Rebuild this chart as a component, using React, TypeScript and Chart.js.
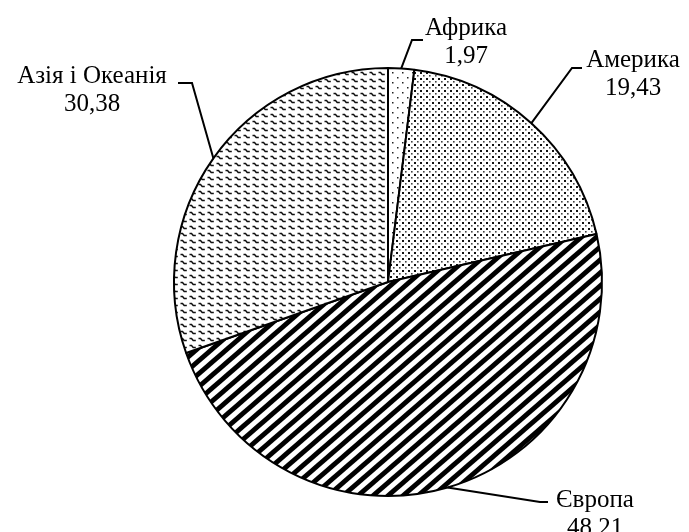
import React, { useEffect, useRef } from "react";
import { Chart, registerables } from "chart.js";

Chart.register(...registerables);

const categories = ["Африка", "Америка", "Європа", "Азія і Океанія"];
const values = [1.97, 19.43, 48.21, 30.38];
const valueLabels = ["1,97", "19,43", "48,21", "30,38"];

// label layout: elbow point, end of horizontal leader, text centre x, first baseline y
const labelLayout = [
  { elbow: [412, 40], end: [423, 40], tx: 466, ty: 35 },
  { elbow: [572, 68], end: [582, 68], tx: 633, ty: 67 },
  { elbow: [540, 502], end: [548, 502], tx: 595, ty: 507 },
  { elbow: [192, 83], end: [178, 83], tx: 92, ty: 83 },
];

function makeTile(w: number, h: number, draw: (c: CanvasRenderingContext2D) => void) {
  const cv = document.createElement("canvas");
  cv.width = w;
  cv.height = h;
  const c = cv.getContext("2d")!;
  c.fillStyle = "#ffffff";
  c.fillRect(0, 0, w, h);
  draw(c);
  return cv;
}

function buildPatterns(ctx: CanvasRenderingContext2D) {
  const sparse = makeTile(10, 10, (c) => {
    c.fillStyle = "#222";
    c.fillRect(2, 2, 1.5, 1.5);
    c.fillRect(7, 7, 1.5, 1.5);
  });
  const dense = makeTile(6, 6, (c) => {
    c.fillStyle = "#111";
    c.fillRect(0, 0, 2, 2);
    c.fillStyle = "#444";
    c.fillRect(3, 3, 1.6, 1.6);
  });
  const W = 15;
  const H = 13;
  const stripes = makeTile(W, H, (c) => {
    c.strokeStyle = "#000";
    c.lineWidth = 4.8;
    for (const dx of [-W, 0, W]) {
      c.beginPath();
      c.moveTo(dx - W, 2 * H);
      c.lineTo(dx + 2 * W, -H);
      c.stroke();
    }
  });
  const waves = makeTile(9, 7, (c) => {
    c.strokeStyle = "#111";
    c.lineWidth = 1.5;
    c.beginPath();
    c.moveTo(0.5, 2.5);
    c.lineTo(2.5, 2.5);
    c.lineTo(4.2, 4.5);
    c.lineTo(6.8, 4.5);
    c.stroke();
  });
  return [sparse, dense, stripes, waves].map((t) => ctx.createPattern(t, "repeat")!);
}

const leaderPlugin = {
  id: "leaders",
  afterDraw(chart: any) {
    const ctx: CanvasRenderingContext2D = chart.ctx;
    const meta = chart.getDatasetMeta(0);
    ctx.save();
    ctx.strokeStyle = "#000";
    ctx.lineWidth = 2;
    ctx.fillStyle = "#000";
    ctx.font = '25px "Liberation Serif", "Times New Roman", serif';
    ctx.textAlign = "center";
    ctx.textBaseline = "alphabetic";
    meta.data.forEach((arc: any, i: number) => {
      const p = arc.getProps(["x", "y", "startAngle", "endAngle", "outerRadius"], true);
      const mid = (p.startAngle + p.endAngle) / 2;
      const sx = p.x + Math.cos(mid) * p.outerRadius;
      const sy = p.y + Math.sin(mid) * p.outerRadius;
      const L = labelLayout[i];
      ctx.beginPath();
      ctx.moveTo(sx, sy);
      ctx.lineTo(L.elbow[0], L.elbow[1]);
      ctx.lineTo(L.end[0], L.end[1]);
      ctx.stroke();
      ctx.fillText(categories[i], L.tx, L.ty);
      ctx.fillText(valueLabels[i], L.tx, L.ty + 28);
    });
    ctx.restore();
  },
};

export default function App() {
  const ref = useRef<HTMLCanvasElement>(null);
  useEffect(() => {
    const canvas = ref.current!;
    const ctx = canvas.getContext("2d")!;
    const patterns = buildPatterns(ctx);
    const chart = new Chart(canvas, {
      type: "pie",
      data: {
        labels: categories,
        datasets: [
          {
            data: values,
            backgroundColor: patterns as any,
            borderColor: "#000",
            borderWidth: 2,
          },
        ],
      },
      options: {
        animation: false,
        responsive: false,
        devicePixelRatio: 1,
        layout: { padding: { top: 67, bottom: 35, left: 173, right: 86 } },
        plugins: {
          legend: { display: false },
          tooltip: { enabled: false },
        },
      },
      plugins: [leaderPlugin],
    });
    return () => chart.destroy();
  }, []);
  return (
    <div style={{ position: "fixed", left: 0, top: 0, width: 689, height: 532, background: "#fff" }}>
      <canvas ref={ref} width={689} height={532} />
    </div>
  );
}
